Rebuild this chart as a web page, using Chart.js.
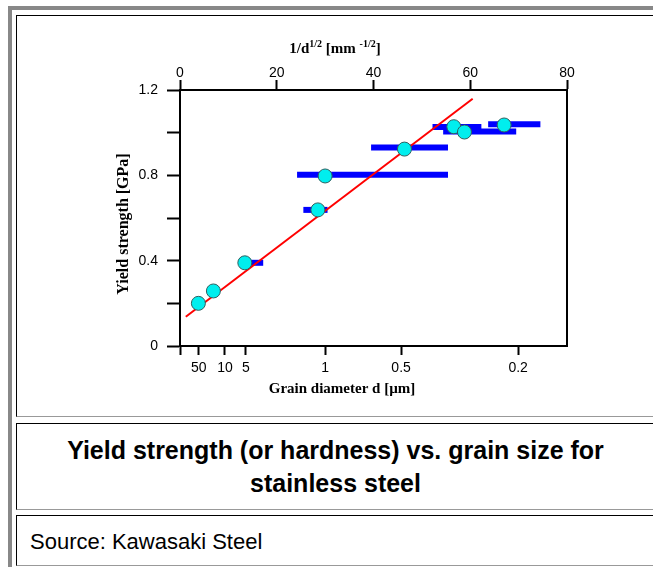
<!DOCTYPE html>
<html>
<head>
<meta charset="utf-8">
<script src="https://cdn.jsdelivr.net/npm/chart.js@4"></script>
<style>
  body { margin: 0; background: #fff; overflow: hidden; font-family: "Liberation Sans", Arial, sans-serif; }
  #frame { position: absolute; left: 8px; top: 6px; width: 800px; height: 700px;
           border-left: 4px solid #888; border-top: 4px solid #888; }
  .cell { position: absolute; left: 16px; width: 760px; box-sizing: border-box;
          border-top: 1px solid #000; border-left: 1px solid #000;
          border-bottom: 1px solid #999; border-right: 1px solid #999; }
  #chartCell { top: 15px; height: 402px; }
  #titleCell { top: 423px; height: 87px; }
  #sourceCell { top: 515px; height: 51px; }
  #title { position: absolute; left: 0; width: 637px; top: 10px; text-align: center;
           font-weight: bold; font-size: 25px; line-height: 33px; }
  #source { position: absolute; left: 13px; top: 13px; font-size: 22px; }
  #myChart { position: absolute; left: 17px; top: 16px; }
</style>
</head>
<body>
<div id="frame"></div>
<div class="cell" id="chartCell"></div>
<div class="cell" id="titleCell"><div id="title">Yield strength (or hardness) vs. grain size for<br>stainless steel</div></div>
<div class="cell" id="sourceCell"><div id="source">Source: Kawasaki Steel</div></div>
<canvas id="myChart" width="636" height="400"></canvas>
<script>
// measured points: x = 1/d^1/2 [mm^-1/2], y = yield strength [GPa]
var invSqrtD = [3.8, 6.9, 13.4, 28.5, 30.0, 46.4, 56.6, 58.8, 67.0];
var yieldGPa = [0.20, 0.258, 0.39, 0.638, 0.797, 0.923, 1.028, 1.003, 1.036];

// grain size ranges (blue bars)
var rangeY  = [0.39, 0.638, 0.803, 0.93, 1.027, 1.005, 1.039];
var rangeLo = [13.4, 25.5, 24.2, 39.5, 52.2, 54.4, 63.7];
var rangeHi = [17.2, 30.5, 55.4, 55.4, 62.3, 69.5, 74.5];

// Hall-Petch fit line
var fitX = [1.2, 60.5];
var fitY = [0.137, 1.159];

// bottom axis: grain diameter labels and where they sit on the 1/d^1/2 scale
var diameterLabels = ['', '50', '10', '5', '1', '0.5', '0.2'];
var diameterPos = [0, 3.9, 9.3, 13.6, 30.0, 45.7, 69.9];

var yLabelled = [0, 0.4, 0.8, 1.2];

var tickFont = { family: '"Liberation Sans", Arial, sans-serif', size: 14 };
var serif = '"Liberation Serif", "Times New Roman", serif';

function pts(xs, ys) {
  return xs.map(function (x, i) { return { x: x, y: ys[i] }; });
}

var datasets = [{
  label: 'measured',
  data: pts(invSqrtD, yieldGPa),
  showLine: false,
  pointRadius: 7,
  pointBackgroundColor: '#00eeee',
  pointBorderColor: '#2f5f5f',
  pointBorderWidth: 1,
  order: 0
}, {
  label: 'fit',
  data: pts(fitX, fitY),
  showLine: true,
  borderColor: '#ff0000',
  borderWidth: 2,
  pointRadius: 0,
  order: 1
}];

rangeY.forEach(function (y, i) {
  datasets.push({
    label: 'range' + i,
    data: [{ x: rangeLo[i], y: y }, { x: rangeHi[i], y: y }],
    showLine: true,
    borderColor: '#0000ff',
    borderWidth: 6,
    borderCapStyle: 'butt',
    pointRadius: 0,
    order: 2
  });
});

var axisTitles = {
  id: 'axisTitles',
  afterDraw: function (chart) {
    var ctx = chart.ctx;
    var a = chart.chartArea;
    ctx.save();
    ctx.fillStyle = '#000';

    // top title with superscripts
    var parts = [['1/d', 15, 0], ['1/2', 10, -6], [' [mm ', 15, 0], ['-1/2', 10, -6], [']', 15, 0]];
    var total = 0;
    parts.forEach(function (p) {
      ctx.font = 'bold ' + p[1] + 'px ' + serif;
      p.push(ctx.measureText(p[0]).width);
      total += p[3];
    });
    var x = a.left + 155 - total / 2;
    ctx.textBaseline = 'alphabetic';
    ctx.textAlign = 'left';
    parts.forEach(function (p) {
      ctx.font = 'bold ' + p[1] + 'px ' + serif;
      ctx.fillText(p[0], x, a.top - 37 + p[2]);
      x += p[3];
    });

    // bottom title
    ctx.font = 'bold 15px ' + serif;
    ctx.textAlign = 'center';
    ctx.fillText('Grain diameter d [\u00b5m]', a.left + 162, a.bottom + 47);

    // y title
    ctx.font = 'bold 16px ' + serif;
    ctx.translate(a.left - 56, (a.top + a.bottom) / 2 + 6);
    ctx.rotate(-Math.PI / 2);
    ctx.textBaseline = 'middle';
    ctx.fillText('Yield strength [GPa]', 0, 0);
    ctx.restore();
  }
};

var ctx = document.getElementById('myChart');
var myChart = new Chart(ctx, {
  type: 'scatter',
  data: { datasets: datasets },
  plugins: [axisTitles],
  options: {
    responsive: false,
    animation: false,
    devicePixelRatio: 1,
    layout: { padding: { left: 0, top: 0, right: 86, bottom: 0 } },
    plugins: { legend: { display: false }, tooltip: { enabled: false } },
    scales: {
      x: {
        type: 'linear', position: 'bottom', min: 0, max: 80,
        afterBuildTicks: function (scale) {
          scale.ticks = diameterPos.map(function (v) { return { value: v }; });
        },
        afterFit: function (scale) { scale.height = 70; },
        ticks: {
          autoSkip: false, maxRotation: 0, padding: 5, color: '#000', font: tickFont,
          callback: function (v, i) { return diameterLabels[i]; }
        },
        grid: { drawOnChartArea: false, tickLength: 9, tickWidth: 2, tickColor: '#000' },
        border: { color: '#000', width: 2 }
      },
      xTop: {
        type: 'linear', position: 'top', min: 0, max: 80,
        afterFit: function (scale) { scale.height = 74; },
        ticks: { stepSize: 20, padding: -2, maxRotation: 0, color: '#000', font: tickFont },
        grid: { drawOnChartArea: false, tickLength: 10, tickWidth: 2, tickColor: '#000' },
        border: { color: '#000', width: 2 }
      },
      y: {
        type: 'linear', position: 'left', min: 0, max: 1.2,
        afterFit: function (scale) { scale.width = 163; },
        ticks: {
          stepSize: 0.2, padding: 9, color: '#000', font: tickFont,
          callback: function (v) {
            var r = Math.round(v * 10) / 10;
            return yLabelled.indexOf(r) >= 0 ? String(r) : '';
          }
        },
        grid: { drawOnChartArea: false, tickLength: 13, tickWidth: 2, tickColor: '#000' },
        border: { color: '#000', width: 2 }
      },
      yRight: {
        type: 'linear', position: 'right', min: 0, max: 1.2,
        afterFit: function (scale) { scale.width = 0; },
        ticks: { display: false },
        grid: { drawOnChartArea: false, drawTicks: false },
        border: { color: '#000', width: 2 }
      }
    }
  }
});
</script>
</body>
</html>
